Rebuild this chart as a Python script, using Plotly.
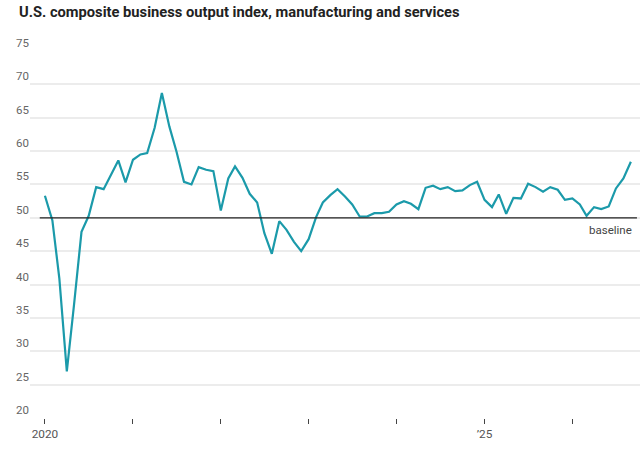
import pandas as pd
import plotly.graph_objects as go

# monthly composite output index, Jan 2020 onward
values = [
    53.3, 49.6, 40.9, 27.0, 37.0, 47.9, 50.3, 54.6, 54.3, 56.3, 58.6, 55.3,
    58.7, 59.5, 59.7, 63.5, 68.7, 63.7, 59.9, 55.4, 55.0, 57.6, 57.2, 57.0,
    51.1, 55.9, 57.7, 56.0, 53.6, 52.3, 47.7, 44.6, 49.5, 48.2, 46.4, 45.0,
    46.8, 50.1, 52.3, 53.4, 54.3, 53.2, 52.0, 50.2, 50.2, 50.7, 50.7, 50.9,
    52.0, 52.5, 52.1, 51.3, 54.5, 54.8, 54.3, 54.6, 54.0, 54.1, 54.9, 55.4,
    52.7, 51.6, 53.5, 50.6, 53.0, 52.9, 55.1, 54.6, 53.9, 54.6, 54.2, 52.7,
    52.9, 52.0, 50.3, 51.6, 51.3, 51.7, 54.4, 55.9, 58.4,
]
dates = pd.date_range("2020-01-01", periods=len(values), freq="MS")

tick_dates = pd.date_range("2020-01-01", "2026-01-01", freq="YS")
tick_labels = ["2020", "", "", "", "", "\u201925", ""]
y_ticks = list(range(20, 80, 5))
baseline = 50

font = "Roboto, sans-serif"

fig = go.Figure()
fig.add_trace(go.Scatter(
    x=dates, y=values, mode="lines",
    line=dict(color="#1b9aaa", width=2.2),
    hoverinfo="x+y",
))

fig.add_shape(type="line", xref="paper", yref="y",
              x0=0.016, x1=0.995, y0=baseline, y1=baseline,
              line=dict(color="#222", width=1.2))
fig.add_annotation(x=0.99, xref="paper", y=baseline, yref="y",
                   text="baseline", showarrow=False, xanchor="right",
                   yanchor="top", yshift=-3,
                   font=dict(family=font, size=11.5, color="#444"))

# title as an annotation so it can sit close to the top edge
fig.add_annotation(x=-0.022, xref="paper", y=1.105, yref="paper",
                   text="<b>U.S. composite business output index, manufacturing and services</b>",
                   showarrow=False, xanchor="left", yanchor="middle",
                   font=dict(family=font, size=14.7, color="#222"))

fig.update_layout(
    width=642, height=452,
    margin=dict(l=30, r=2, t=51, b=34),
    paper_bgcolor="white", plot_bgcolor="white",
    showlegend=False,
    xaxis=dict(
        range=["2019-10-31", "2026-10-09"],
        tickvals=tick_dates, ticktext=tick_labels,
        ticks="outside", ticklen=5, tickwidth=1, tickcolor="#444",
        showgrid=False, zeroline=False, showline=False,
        tickfont=dict(family=font, size=11.8, color="#555"),
    ),
    yaxis=dict(
        range=[20, 75], tickvals=y_ticks,
        showgrid=True, gridcolor="#ececec", gridwidth=1.5,
        zeroline=False, showline=False, ticks="",
        ticklabelposition="outside top", automargin=False,
        tickfont=dict(family=font, size=11.5, color="#666"),
    ),
)

# drop the browser's default 8px body margin so the figure fills the window
fig.write_html("out.html", config={"displayModeBar": False},
               post_script="document.body.style.margin = '0';")
